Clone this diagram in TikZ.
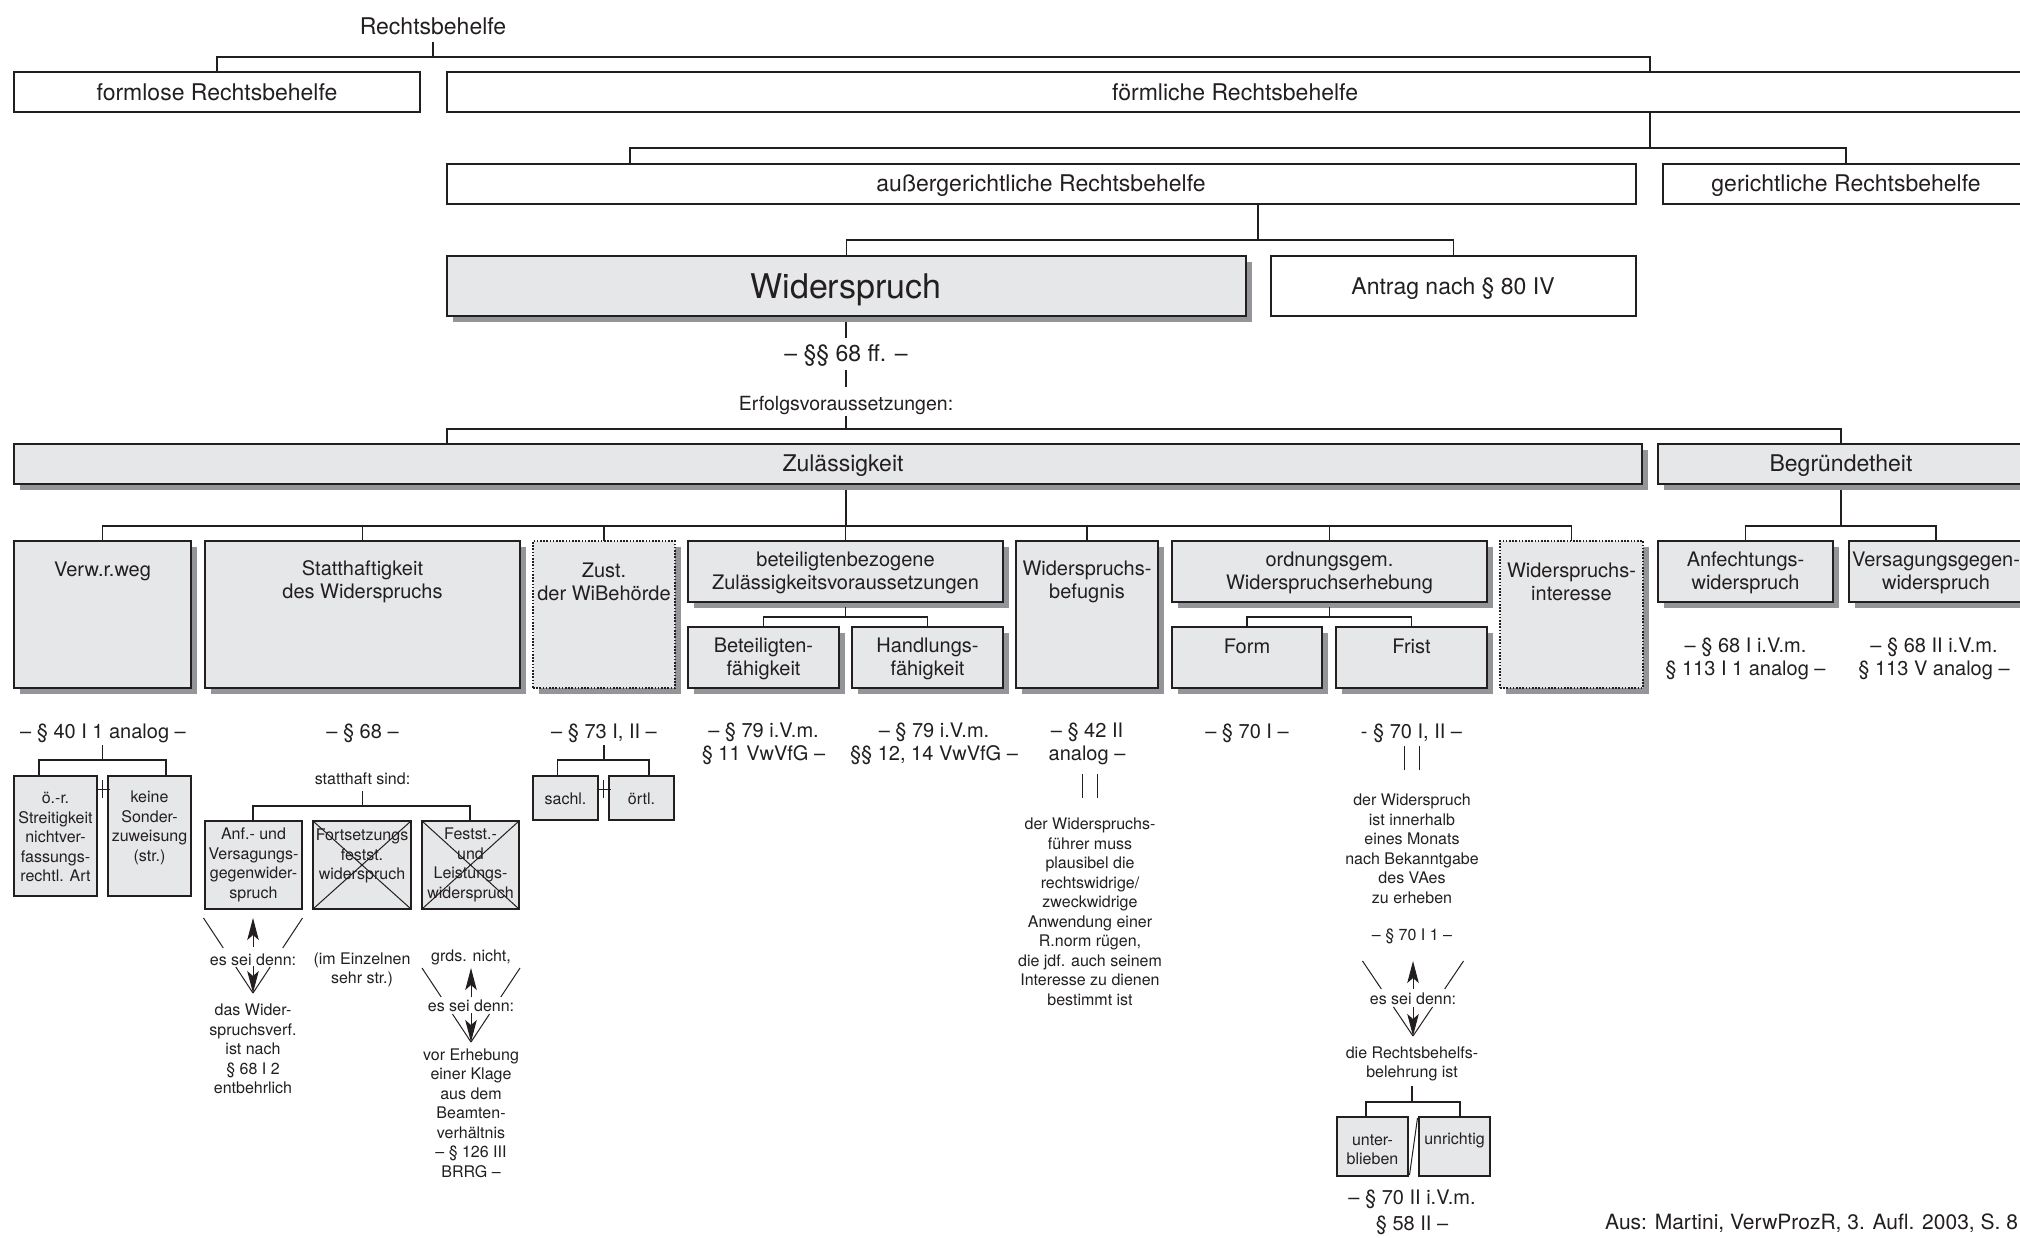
\documentclass[tikz,border=0pt]{standalone}
\usepackage{fontspec}
\setmainfont{TeX Gyre Heros}
\usetikzlibrary{arrows.meta,calc}
\definecolor{boxgray}{HTML}{E6E7E8}
\definecolor{shgray}{HTML}{939598}
\definecolor{ink}{HTML}{231F20}
\tikzset{
  wbox/.style={rectangle, draw=ink, line width=1.5pt, fill=white, inner sep=0pt, outer sep=0pt, anchor=north west},
  gbox/.style={wbox, fill=boxgray},
  dbox/.style={wbox, fill=boxgray, line width=1.3pt, dash pattern=on 1.6pt off 1.6pt},
  sbox/.style={wbox, fill=boxgray, line width=1.4pt},
  tx/.style={inner sep=0pt, align=center, text=ink},
  fA/.style={font=\fontsize{23}{27}\selectfont},
  fW/.style={font=\fontsize{34}{40}\selectfont},
  fB/.style={font=\fontsize{20}{23}\selectfont},
  fE/.style={font=\fontsize{19.5}{23}\selectfont},
  fS/.style={font=\fontsize{16}{19.5}\selectfont},
  con/.style={draw=ink, line width=1.3pt},
  thinl/.style={draw=ink, line width=1pt},
  arr/.style={draw=ink, line width=1pt, -{Stealth[length=22pt,width=11.5pt,inset=5pt]}}
}
\newcommand\mkWB[5]{\node[wbox, minimum width={#4-#2}, minimum height={#5-#3}] (#1) at (#2,#3) {};}
\newcommand\mkGB[5]{\fill[shgray] (#2+5.5,#3+5.5) rectangle (#4+5.5,#5+5.5);\node[gbox, minimum width={#4-#2}, minimum height={#5-#3}] (#1) at (#2,#3) {};}
\newcommand\mkDB[5]{\fill[shgray] (#2+5.5,#3+5.5) rectangle (#4+5.5,#5+5.5);\node[dbox, minimum width={#4-#2}, minimum height={#5-#3}] (#1) at (#2,#3) {};}
\newcommand\mkSB[5]{\node[sbox, minimum width={#4-#2}, minimum height={#5-#3}] (#1) at (#2,#3) {};}
% V with arrows: name, cx, ytop, yapex, halfwidth, f1, f2, yup, ydown
\newcommand\mkVV[9]{%
  \coordinate (#1A) at (#2,#4);
  \coordinate (#1L) at (#2-#5,#3);
  \coordinate (#1R) at (#2+#5,#3);
  \draw[thinl] (#1L) -- ($(#1L)!#6!(#1A)$) ($(#1L)!#7!(#1A)$) -- (#1A);
  \draw[thinl] (#1R) -- ($(#1R)!#6!(#1A)$) ($(#1R)!#7!(#1A)$) -- (#1A);
  \coordinate (#1U) at (#2,#8);
  \coordinate (#1D) at (#2,#9);
  \draw[arr] (#1U) -- (#2,#3);
  \draw[arr] (#1D) -- (#1A);
}
\begin{document}
\begin{tikzpicture}[x=1pt,y=-1pt]
\useasboundingbox (0,0) rectangle (2020,1237);
\fill[white] (0,0) rectangle (2020,1237);
\clip (0,0) rectangle (2020,1237);

% ---------- level 1
\node[tx,fA] (rb) at (433,26) {Rechtsbehelfe};
\mkWB{formlose}{14}{72}{420}{112}
\mkWB{foerm}{447}{72}{2040}{112}
\node[tx,fA] (tformlose) at (217,92) {formlose Rechtsbehelfe};
\node[tx,fA] (tfoerm) at (1235,92) {förmliche Rechtsbehelfe};
\mkWB{ausg}{447}{164}{1636}{204}
\mkWB{ger}{1663}{164}{2029}{204}
\node[tx,fA] (tausg) at (1041,186) {außergerichtliche Rechtsbehelfe};
\node[tx,fA] (tger) at (1846,186) {gerichtliche Rechtsbehelfe};
\mkGB{wid}{447}{256}{1246}{316}
\mkWB{antrag}{1271}{256}{1636}{316}
\node[tx,fW] (twid) at (846,290) {Widerspruch};
\node[tx,fA] (tantrag) at (1453,289) {Antrag nach § 80 IV};
\node[tx,fA] (p68ff) at (846,356) {– §§ 68 ff. –};
\node[tx,fE] (erfolg) at (846,405) {Erfolgsvoraussetzungen:};
\mkGB{zul}{14}{444}{1642}{484}
\mkGB{begr}{1658}{444}{2024}{484}
\node[tx,fA] (tzul) at (843,466) {Zulässigkeit};
\node[tx,fA] (tbegr) at (1841,466) {Begründetheit};

\coordinate (rbS) at (433,42);
\coordinate (foermT) at (1650,72);
\coordinate (foermB) at (1650,112);
\coordinate (ausgT) at (630,164);
\coordinate (gerT) at (1846,164);
\coordinate (ausgB) at (1258,204);
\draw[con] (rbS) -- ++(0,15);
\draw[con] (formlose.north) -- ++(0,-15) -| (foermT);
\draw[con] (foermB) -- ++(0,36);
\draw[con] (ausgT) -- ++(0,-16) -| (gerT);
\draw[con] (ausgB) -- ++(0,36);
\draw[con] (wid.north) -- ++(0,-16) -| (antrag.north);
\coordinate (widS) at (846,322);
\coordinate (pS) at (846,370);
\coordinate (eS) at (846,416);
\coordinate (zulT) at (447,444);
\coordinate (begrT) at (1841,444);
\draw[con] (widS) -- ++(0,16);
\draw[con] (pS) -- ++(0,17);
\draw[con] (eS) -- ++(0,13);
\draw[con] (zulT) -- ++(0,-15) -| (begrT);

% ---------- level 2
\mkGB{verw}{14}{541}{191}{688}
\mkGB{statt}{205}{541}{520}{688}
\mkDB{zust}{533}{541}{675}{688}
\mkGB{bet}{688}{541}{1003}{602}
\mkGB{betF}{688}{627}{839}{688}
\mkGB{betH}{852}{627}{1003}{688}
\mkGB{bef}{1016}{541}{1158}{688}
\mkGB{ord}{1172}{541}{1487}{602}
\mkGB{form}{1172}{627}{1322}{688}
\mkGB{frist}{1336}{627}{1487}{688}
\mkDB{int}{1500}{541}{1643}{688}
\mkGB{anf}{1658}{541}{1833}{602}
\mkGB{vers}{1849}{541}{2023}{602}

\coordinate (zulS) at (846,490);
\coordinate (begrS) at (1841,490);
\draw[con] (zulS) -- ++(0,36);
\draw[con] (verw.north) -- ++(0,-15) -| (int.north);
\foreach \b in {statt,zust,bet,bef,ord} {\draw[con] (\b.north) -- ++(0,-15);}
\draw[con] (begrS) -- ++(0,36);
\draw[con] (anf.north) -- ++(0,-15) -| (vers.north);
\draw[con] (bet.south) ++(0,5) -- ++(0,10);
\draw[con] (betF.north) -- ++(0,-10) -| (betH.north);
\draw[con] (ord.south) ++(0,5) -- ++(0,10);
\draw[con] (form.north) -- ++(0,-10) -| (frist.north);

\node[tx,fB] (tverw) at (102.5,571) {Verw.r.weg};
\node[tx,fB] (tstatt) at (362.5,582) {Statthaftigkeit\\des Widerspruchs};
\node[tx,fB] (tzust) at (604,582) {Zust.\\der WiBehörde};
\node[tx,fB] (tbet) at (845.5,573) {beteiligtenbezogene\\Zulässigkeitsvoraussetzungen};
\node[tx,fB] (tbetF) at (763.5,659) {Beteiligten-\\fähigkeit};
\node[tx,fB] (tbetH) at (927.5,659) {Handlungs-\\fähigkeit};
\node[tx,fB] (tbef) at (1087,582) {Widerspruchs-\\befugnis};
\node[tx,fB] (tord) at (1329.5,573) {ordnungsgem.\\Widerspruchserhebung};
\node[tx,fB] (tform) at (1247,646) {Form};
\node[tx,fB] (tfrist) at (1411.5,646) {Frist};
\node[tx,fB] (tint) at (1571.5,582) {Widerspruchs-\\interesse};
\node[tx,fB] (tanf) at (1745.5,573) {Anfechtungs-\\widerspruch};
\node[tx,fB] (tvers) at (1936,573) {Versagungsgegen-\\widerspruch};

% ---------- paragraphs
\node[tx,fB] (p40) at (103,733) {– § 40 I 1 analog –};
\node[tx,fB] (p68) at (362.5,733) {– § 68 –};
\node[tx,fB] (p73) at (604,733) {– § 73 I, II –};
\node[tx,fB] (p79a) at (763.5,744) {– § 79 i.V.m.\\§ 11 VwVfG –};
\node[tx,fB] (p79b) at (934,744) {– § 79 i.V.m.\\§§ 12, 14 VwVfG –};
\node[tx,fB] (p42) at (1087,744) {– § 42 II\\analog –};
\node[tx,fB] (p70) at (1247,733) {– § 70 I –};
\node[tx,fB] (p70b) at (1411.5,733) {- § 70 I, II –};
\node[tx,fB] (p68a) at (1745.5,659) {– § 68 I i.V.m.\\§ 113 I 1 analog –};
\node[tx,fB] (p68b) at (1934,659) {– § 68 II i.V.m.\\§ 113 V analog –};

% ---------- Verw.r.weg details
\coordinate (vS) at (102.5,745);
\draw[con] (vS) -- ++(0,15);
\mkSB{oer}{14}{776}{97}{896}
\mkSB{keine}{108}{776}{191}{896}
\coordinate (oerT) at (39,776);
\coordinate (keineT) at (166,776);
\draw[con] (oerT) -- ++(0,-16) -| (keineT);
\coordinate (plusA) at (102.5,789);
\draw[thinl] (plusA) ++(0,-9) -- ++(0,18) (plusA) ++(-7,0) -- ++(14,0);
\node[tx,fS] (toer) at (55.5,837) {ö.-r.\\Streitigkeit\\nichtver-\\fassungs-\\rechtl. Art};
\node[tx,fS] (tkeine) at (149.5,828) {keine\\Sonder-\\zuweisung\\(str.)};

% ---------- Statthaftigkeit details
\node[tx,fS] (statthaft) at (362.5,779) {statthaft sind:};
\coordinate (stS) at (362.5,791);
\draw[con] (stS) -- ++(0,15);
\mkSB{anfv}{205}{821}{302}{909}
\mkSB{forts}{313}{821}{411}{909}
\mkSB{fest}{422}{821}{519}{909}
\coordinate (anfvT) at (253,821);
\coordinate (festT) at (470,821);
\draw[con] (anfvT) -- ++(0,-15) -| (festT);
\node[tx,fS] (tanfv) at (253.5,865) {Anf.- und\\Versagungs-\\gegenwider-\\spruch};
\node[tx,fS] (tforts) at (362,856) {Fortsetzungs\\festst.\\widerspruch};
\node[tx,fS] (tfest) at (470.5,865) {Festst.-\\und\\Leistungs-\\widerspruch};
\draw[thinl] (forts.north west) -- (forts.south east) (forts.north east) -- (forts.south west);
\draw[thinl] (fest.north west) -- (fest.south east) (fest.north east) -- (fest.south west);

\mkVV{va}{253}{918}{993}{49.5}{0.4}{0.653}{947}{966}
\node[tx,fS] (esa) at (253,960) {es sei denn:};
\node[tx,fS] (dasW) at (253,1049) {das Wider-\\spruchsverf.\\ist nach\\§ 68 I 2\\entbehrlich};
\node[tx,fS] (imE) at (362,970) {(im Einzelnen\\sehr str.)};
\node[tx,fS] (grds) at (471,957) {grds. nicht,};
\mkVV{vb}{471}{968}{1042}{49}{0.392}{0.622}{997}{1013}
\node[tx,fS] (esb) at (471,1006) {es sei denn:};
\node[tx,fS] (vorE) at (471,1113) {vor Erhebung\\einer Klage\\aus dem\\Beamten-\\verhältnis\\– § 126 III\\BRRG –};

% ---------- Zust. details
\coordinate (zS) at (604,745);
\draw[con] (zS) -- ++(0,15);
\mkSB{sachl}{533}{776}{598}{820}
\mkSB{oertl}{609}{776}{674}{820}
\coordinate (sachlT) at (557.5,776);
\coordinate (oertlT) at (649,776);
\draw[con] (sachlT) -- ++(0,-16) -| (oertlT);
\coordinate (plusB) at (603.5,789);
\draw[thinl] (plusB) ++(0,-9) -- ++(0,18) (plusB) ++(-7,0) -- ++(14,0);
\node[tx,fS] (tsachl) at (565.5,799) {sachl.};
\node[tx,fS] (toertl) at (641.5,799) {örtl.};

% ---------- Widerspruchsbefugnis details
\coordinate (bd) at (1089.5,774);
\draw[thinl] (bd) ++(-7.5,0) -- ++(0,24) (bd) ++(7.5,0) -- ++(0,24);
\node[tx,fS] (befT) at (1090,912) {der Widerspruchs-\\führer muss\\plausibel die\\rechtswidrige/\\zweckwidrige\\Anwendung einer\\R.norm rügen,\\die jdf. auch seinem\\Interesse zu dienen\\bestimmt ist};

% ---------- Frist details
\coordinate (fd) at (1412,746);
\draw[thinl] (fd) ++(-7.5,0) -- ++(0,24) (fd) ++(7.5,0) -- ++(0,24);
\node[tx,fS] (fristT) at (1412,849) {der Widerspruch\\ist innerhalb\\eines Monats\\nach Bekanntgabe\\des VAes\\zu erheben};
\node[tx,fS] (p701) at (1412,936) {– § 70 I 1 –};
\mkVV{vc}{1413}{961}{1036}{50.5}{0.373}{0.613}{989}{1007}
\node[tx,fS] (esc) at (1413,999) {es sei denn:};
\node[tx,fS] (rbb) at (1412,1064) {die Rechtsbehelfs-\\belehrung ist};
\coordinate (rbbS) at (1412,1086);
\draw[con] (rbbS) -- ++(0,16);
\mkSB{unter}{1337}{1117}{1408}{1176}
\mkSB{unr}{1419}{1117}{1490}{1176}
\coordinate (unterT) at (1366,1117);
\coordinate (unrT) at (1460,1117);
\draw[con] (unterT) -- ++(0,-15) -| (unrT);
\coordinate (slA) at (1417.5,1118);
\coordinate (slB) at (1409.5,1175);
\draw[thinl] (slA) -- (slB);
\node[tx,fS] (tunter) at (1372.5,1150) {unter-\\blieben};
\node[tx,fS] (tunr) at (1454.5,1140) {unrichtig};
\node[tx,font=\fontsize{20}{26}\selectfont] (p702) at (1412,1212) {– § 70 II i.V.m.\\§ 58 II –};

% ---------- source
\node[tx,font=\fontsize{21}{25}\selectfont,anchor=west] (src) at (1605,1223) {Aus: Martini, VerwProzR, 3. Aufl. 2003, S. 8};
\end{tikzpicture}
\end{document}
